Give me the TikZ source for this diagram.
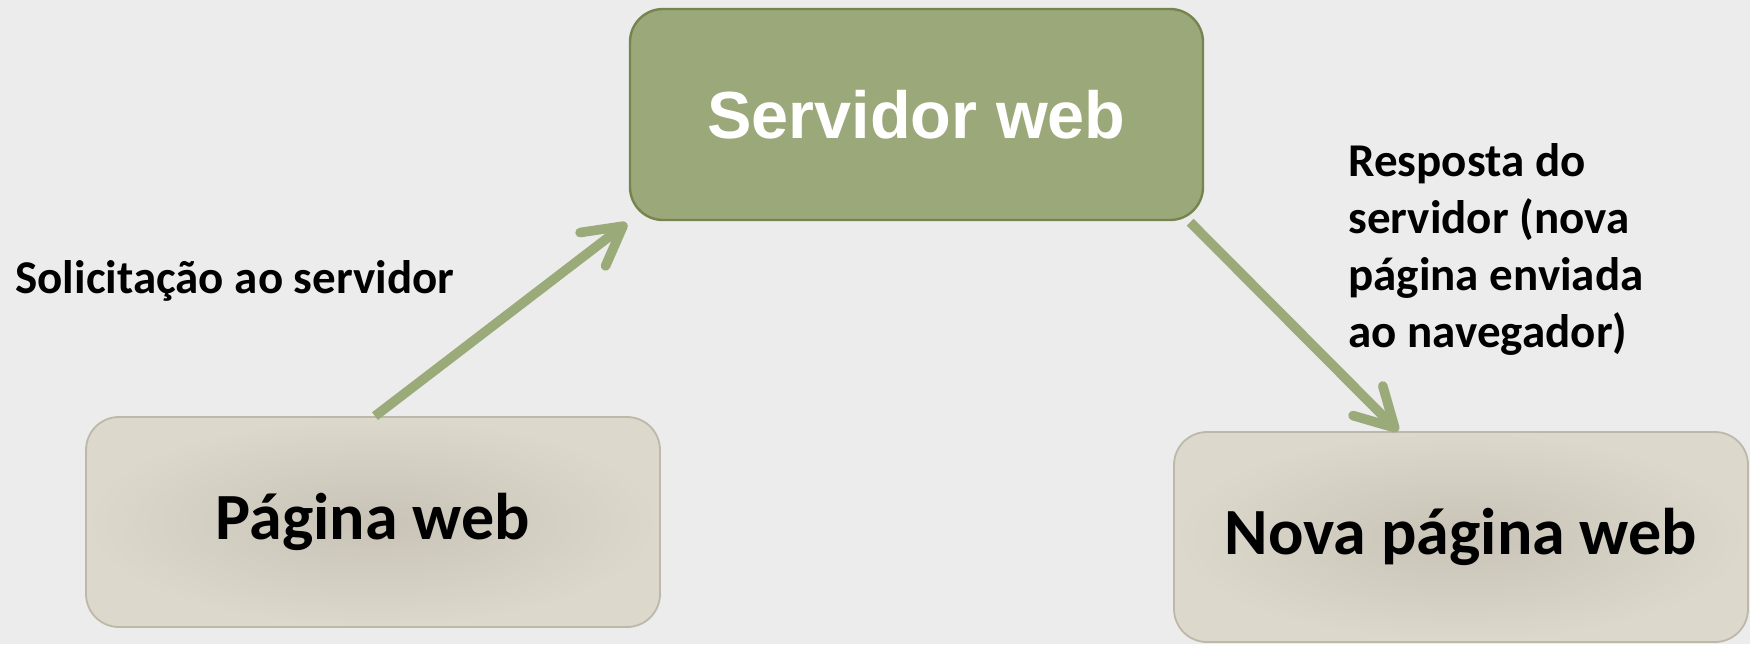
\documentclass[tikz,border=0pt]{standalone}
\usepackage{fontspec}
\setmainfont{Carlito}
\newfontfamily\arialfont{Liberation Sans}
\usetikzlibrary{arrows.meta,calc,shadings}
\definecolor{bgc}{HTML}{ECECEC}
\definecolor{greenfill}{HTML}{9BA879}
\definecolor{greenline}{HTML}{76844F}
\definecolor{arrowc}{HTML}{9AAA78}
\definecolor{grayin}{HTML}{C8C3B6}
\definecolor{grayout}{HTML}{DCD8CC}
\definecolor{grayline}{HTML}{BDB8A9}
\tikzset{
  srvbox/.style={rectangle, rounded corners=16.5pt, fill=greenfill, draw=greenline, line width=1.2pt,
    minimum width=286.5pt, minimum height=105.5pt, inner sep=0pt,
    font=\arialfont\bfseries\fontsize{33.3pt}{38pt}\selectfont, text=white},
  pagebox/.style={rectangle, rounded corners=16.5pt, inner color=grayin, outer color=grayout, draw=grayline, line width=0.9pt,
    minimum width=287pt, minimum height=105pt, inner sep=0pt,
    font=\bfseries\fontsize{33pt}{38pt}\selectfont, text=black},
  lbl/.style={inner sep=0pt, font=\bfseries\fontsize{23.5pt}{28.5pt}\selectfont, text=black},
  flow/.style={draw=arrowc, line width=4.8pt, -{Straight Barb[length=19pt,width=21pt,round]}}
}
\begin{document}
\begin{tikzpicture}[x=0.5pt,y=-0.5pt]
\useasboundingbox (0,0) rectangle (1750,644);
\fill[bgc] (0,0) rectangle (1750,644);
\node[srvbox] (srv) at (916.5,114.5) {Servidor web};
\node[pagebox] (pag) at (373,522) {Página web};
\node[pagebox] (nova) at (1461,537) {Nova página web};
\node[lbl, anchor=base west] (sol) at (15,293) {Solicitação ao servidor};
\node[lbl, anchor=north west, align=left] (resp) at (1348,143) {Resposta do\\servidor (nova\\página enviada\\ao navegador)};
\coordinate (t1) at ($(srv.south west)+(-2,2)$);
\coordinate (s2) at ($(srv.south east)+(-14,1)$);
\coordinate (t2) at ($(nova.north west)+(225,0)$);
\draw[flow] ($(pag.north)+(2,0)$) -- (t1);
\draw[flow] (s2) -- (t2);
\end{tikzpicture}
\end{document}
